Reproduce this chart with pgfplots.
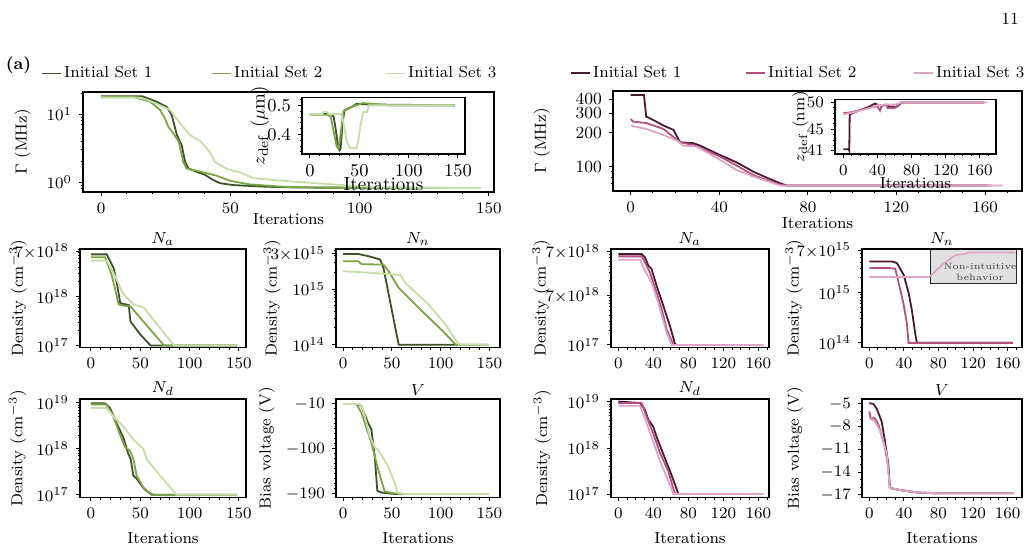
\documentclass[border=0pt]{standalone}
\usepackage{pgfplots}
\pgfplotsset{compat=1.18}
\definecolor{g1}{HTML}{3D5228}
\definecolor{g2}{HTML}{7BA443}
\definecolor{g3}{HTML}{C6DDA8}
\definecolor{p1}{HTML}{4A1830}
\definecolor{p2}{HTML}{B3507F}
\definecolor{p3}{HTML}{DDA5C6}
\pgfplotsset{
  base/.style={scale only axis, anchor=south west, tick align=outside, tick pos=left,
    axis line style={line width=0.6pt},
    every tick/.style={black, line width=0.5pt},
    major tick length=2pt, minor tick length=1.2pt,
    font=\fontsize{8}{9}\selectfont,
    ticklabel style={font=\fontsize{8.5}{9.5}\selectfont},
    every axis plot/.append style={line width=0.9pt},
    title style={font=\fontsize{8.5}{9.5}\selectfont, inner sep=2pt, yshift=-6.5pt},
  },
  yl/.style={every axis y label/.style={at={(axis description cs:#1,0.5)}, rotate=90, anchor=center}},
  xl/.style={xtick={0,50,100,150}, minor xtick={0,10,...,150}},
  xr/.style={xtick={0,40,80,120,160}, minor xtick={0,10,...,170}},
  leg/.style={hide axis, scale only axis, width=1pt, height=1pt, xmin=0, xmax=1, ymin=0, ymax=1,
    at={#1}, anchor=south west,
    legend style={at={(0,0.5)}, anchor=west, draw=none, fill=none, inner sep=0pt,
      nodes={inner sep=1.25pt}, font=\fontsize{8}{9}\selectfont},
    legend image code/.code={\draw[##1] (0pt,0pt) -- (9.5pt,0pt);}},
}
\begin{document}
\begin{tikzpicture}
\useasboundingbox (0,0) rectangle (514.5pt,274.5pt);

% ---------- P1 main (left) ----------
\begin{axis}[base, xl, at={(41.5pt,178.5pt)}, width=205.5pt, height=50pt,
  xmin=-7, xmax=152, ymode=log, ymin=0.72, ymax=21.3,
  ytick={1,10}, yticklabels={$10^{0}$,$10^{1}$}, minor ytick={0.8,0.9,2,3,4,5,6,7,8,9,20},
  xlabel={Iterations}, ylabel={$\Gamma$ (MHz)}, yl=-0.147, xlabel style={yshift=7pt}]
\addplot[g1] coordinates {(0,18.4)(16,18.4)(21.5,15.3)(25.4,12.9)(27.3,9.8)(29.3,5.0)(31.2,3.5)(32.5,2.0)(33.8,1.6)(38.3,1.36)(40,1.3)(43.4,1.08)(46,0.97)(51,0.91)(64,0.86)(77,0.836)(120,0.83)};
\addplot[g2] coordinates {(0,18.0)(12.5,18.0)(19,15.3)(22.8,11.6)(24.7,8.7)(26,6.6)(28,5.2)(30,4.0)(31.8,2.0)(33,1.6)(38.3,1.44)(44.7,1.25)(50,1.05)(57.6,0.93)(70.5,0.86)(83,0.836)(134,0.83)};
\addplot[g3] coordinates {(0,17.6)(15,17.6)(19,15.7)(26.7,11.6)(30.5,7.4)(34.4,4.96)(38.3,4.05)(42,2.82)(44,2.0)(48.6,1.57)(53.7,1.40)(59,1.15)(70.5,1.05)(83,0.97)(102.7,0.86)(115.6,0.836)(147,0.83)};
\end{axis}

% ---------- I1 inset ----------
\begin{axis}[base, xl, at={(151pt,197.5pt)}, width=81.5pt, height=28.25pt,
  axis background/.style={fill=white},
  font=\fontsize{9.5}{10.5}\selectfont, ticklabel style={font=\fontsize{9.5}{10.5}\selectfont},
  xmin=-8.1, xmax=157.1, ymin=0.333, ymax=0.527,
  ytick={0.4,0.5}, minor ytick={0.34,0.36,0.38,0.42,0.44,0.46,0.48,0.52},
  xlabel={Iterations}, ylabel={$z_{\mathrm{def}}$ ($\mu$m)}, yl=-0.258,
  xlabel style={yshift=6.5pt}]
\addplot[g1] coordinates {(0,0.47)(22,0.47)(24,0.46)(26,0.42)(28,0.37)(30,0.346)(31,0.35)(33,0.44)(35,0.483)(40,0.491)(44,0.498)(47,0.505)(60,0.503)(147,0.5)};
\addplot[g2] coordinates {(0,0.468)(18,0.468)(21,0.46)(24,0.41)(27,0.36)(29,0.35)(31,0.40)(34,0.48)(40,0.49)(44,0.497)(54,0.508)(71,0.503)(80,0.5)(147,0.5)};
\addplot[g3] coordinates {(0,0.47)(12,0.47)(14,0.478)(17,0.478)(19,0.47)(32,0.47)(34,0.44)(37,0.38)(40,0.355)(47,0.352)(49,0.38)(51,0.43)(54,0.477)(58,0.477)(59.5,0.5)(147,0.5)};
\end{axis}

% ---------- P2 main (right) ----------
\begin{axis}[base, xr, at={(306.5pt,179pt)}, width=204.5pt, height=50pt,
  xmin=-8, xmax=176.7, ymode=log, ymin=60.5, ymax=475,
  ytick={100,200,300,400}, yticklabels={100,200,300,400}, minor ytick={70,80,90},
  xlabel={Iterations}, ylabel={$\Gamma$ (MHz)}, yl=-0.174, xlabel style={yshift=4.5pt}]
\addplot[p1] coordinates {(0,437)(6,437)(7,280)(10.2,261)(14.8,233)(19.3,213)(22.3,165)(28.3,162)(31.3,154)(40.3,127)(47.9,109)(55.4,90)(61.4,79.7)(67.4,71)(70.5,67.7)(161,67.7)};
\addplot[p2] coordinates {(0,267)(1,253)(7.2,245)(14.8,217)(22.3,165)(28.3,156)(40.3,123)(47.9,102)(55.4,84)(64.4,72)(69,67.7)(163,67.7)};
\addplot[p3] coordinates {(0,233)(7.2,217)(14.8,192)(20.8,171)(23.8,154)(29.8,151)(40.3,115)(47.9,93)(55.4,81.5)(64.4,71)(67.4,67.7)(168,67.7)};
\end{axis}

% ---------- I2 inset ----------
\begin{axis}[base, xr, at={(417.5pt,197.5pt)}, width=80.5pt, height=27.25pt,
  axis background/.style={fill=white},
  xmin=-9.7, xmax=178.8, ymin=40.4, ymax=50.56,
  ytick={41,45,50}, minor ytick={41,...,50},
  xlabel={Iterations}, ylabel={$z_{\mathrm{def}}$ (nm)}, yl=-0.215,
  xlabel style={yshift=6pt}]
\addplot[p1] coordinates {(0,41.3)(6,41.3)(7,41.0)(7.5,47.7)(10,48.0)(20,48.6)(30,49.2)(37,49.8)(40,49.6)(45,49.4)(50,49.6)(55,49.2)(62,49.2)(66,49.6)(68,50)(165,50)};
\addplot[p2] coordinates {(0,48.0)(10,48.2)(20,48.6)(30,49.0)(40,49.3)(43,48.5)(45,49.4)(50,49.6)(52,49.0)(60,49.0)(64,49.3)(68,50)(165,50)};
\addplot[p3] coordinates {(0,47.8)(10,48.1)(20,48.5)(30,48.9)(40,49.5)(50,49.6)(60,49.6)(68,50)(168,50)};
\end{axis}

% ---------- A: Na left ----------
\begin{axis}[base, xl, at={(40pt,100.75pt)}, width=83pt, height=49.25pt,
  xmin=-11.1, xmax=157.1, ymode=log, ymin=9.12e16, ymax=9.33e18,
  ytick={1e17,1e18,8.3e18}, yticklabels={$10^{17}$,$10^{18}$,$7{\times}10^{18}$},
  minor ytick={2e17,3e17,4e17,5e17,6e17,7e17,8e17,9e17,2e18,3e18,4e18,5e18,6e18,7e18,8e18,9e18},
  title={$N_a$}, ylabel={Density (cm$^{-3}$)}, yl=-0.373]
\addplot[g1] coordinates {(0,7.24e18)(16,7.24e18)(23,3.8e18)(26.3,1.86e18)(29.7,7.3e17)(38.3,6.7e17)(40,3.1e17)(50.3,1.65e17)(60.5,1e17)(148,1e17)};
\addplot[g2] coordinates {(0,6.3e18)(14.4,6.3e18)(21,2.75e18)(24.6,1.38e18)(28,6.9e17)(36.6,6.3e17)(40,6.3e17)(74,1e17)(148,1e17)};
\addplot[g3] coordinates {(0,5.4e18)(16,5.4e18)(24.6,2.57e18)(31.5,1.26e18)(35,1e18)(43.4,6.8e17)(53.7,6.0e17)(57,4.8e17)(84.4,1e17)(148,1e17)};
\end{axis}

% ---------- B: Nn left ----------
\begin{axis}[base, xl, at={(168pt,100.75pt)}, width=82pt, height=49.25pt,
  xmin=-7.3, xmax=161, ymode=log, ymin=8.9e13, ymax=5.25e15,
  ytick={1e14,1e15,4.27e15}, yticklabels={$10^{14}$,$10^{15}$,$3{\times}10^{15}$},
  minor ytick={2e14,3e14,4e14,5e14,6e14,7e14,8e14,9e14,2e15,3e15,4e15,5e15},
  title={$N_n$}, ylabel={Density (cm$^{-3}$)}, yl=-0.39]
\addplot[g1] coordinates {(0,4.27e15)(15.5,4.27e15)(25.9,3.9e15)(38,3.4e15)(41.4,2.4e15)(57,1e14)(148,1e14)};
\addplot[g2] coordinates {(0,3.16e15)(15.5,3.16e15)(19,2.8e15)(41.4,2.75e15)(46.6,2.1e15)(57,1.05e15)(81,4e14)(101.7,1.8e14)(115.5,1e14)(148,1e14)};
\addplot[g3] coordinates {(0,2.1e15)(29.3,1.95e15)(58.6,1.8e15)(63.8,1.29e15)(88,5.2e14)(105,2.3e14)(119,1e14)(150,1e14)};
\end{axis}

% ---------- C: Na right ----------
\begin{axis}[base, xr, at={(305.5pt,100.75pt)}, width=79pt, height=49.25pt,
  xmin=-8.3, xmax=172.2, ymode=log, ymin=8.9e16, ymax=8.9e18,
  ytick={1e17,1e18,7.8e18}, yticklabels={$10^{17}$,$7{\times}10^{18}$,$7{\times}10^{18}$},
  minor ytick={2e17,3e17,4e17,5e17,6e17,7e17,8e17,9e17,2e18,3e18,4e18,5e18,6e18,7e18},
  title={$N_a$}, ylabel={Density (cm$^{-3}$)}, yl=-0.443]
\addplot[p1] coordinates {(0,7e18)(26.7,7e18)(30.5,6.0e18)(34.3,4.1e18)(38,3.5e18)(43.8,1.6e18)(51.4,6.3e17)(59,2.45e17)(64.8,1.05e17)(66.7,1e17)(165.7,1e17)};
\addplot[p2] coordinates {(0,6.3e18)(26.7,6.3e18)(30.5,4.8e18)(36.2,2.95e18)(41.9,1.48e18)(49.5,5.4e17)(55.2,2.1e17)(62.9,1e17)(164,1e17)};
\addplot[p3] coordinates {(0,5.4e18)(24.8,5.4e18)(30.5,3.2e18)(38,1.86e18)(45.7,7.2e17)(55.2,1.8e17)(61,1e17)(166,1e17)};
\end{axis}

% ---------- D: Nn right ----------
\draw[fill=black!12, draw=black!85, line width=0.5pt] (465pt,132.5pt) rectangle (508pt,149.5pt);
\node[font=\fontsize{4.6}{5.6}\selectfont, align=center, text=black!75] at (490pt,138.5pt) {Non-intuitive\\behavior};
\begin{axis}[base, xr, at={(431pt,100.75pt)}, width=80pt, height=49.25pt,
  xmin=-8.5, xmax=176.7, ymode=log, ymin=8.1e13, ymax=7.4e15,
  ytick={1e14,1e15,7e15}, yticklabels={$10^{14}$,$10^{15}$,$7{\times}10^{15}$},
  minor ytick={2e14,3e14,4e14,5e14,6e14,7e14,8e14,9e14,2e15,3e15,4e15,5e15,6e15},
  title={$N_n$}, ylabel={Density (cm$^{-3}$)}, yl=-0.425]
\addplot[p1] coordinates {(0,4.17e15)(26,4.17e15)(31.8,3.9e15)(39.6,2.3e15)(45.4,1e15)(49.3,4.4e14)(53.2,1.5e14)(55.1,1.0e14)(166,1e14)};
\addplot[p2] coordinates {(0,3.1e15)(22,3.1e15)(30,3.0e15)(33.8,1.6e15)(39.6,5.9e14)(43.5,2.4e14)(45.4,1e14)(166,1e14)};
\addplot[p3] coordinates {(0,2.04e15)(68.7,2.04e15)(72.6,2.3e15)(84.3,3.6e15)(99.8,5.6e15)(111.5,5.9e15)(115,6.3e15)(169,6.3e15)};
\end{axis}

% ---------- E: Nd left ----------
\begin{axis}[base, xl, at={(40pt,25.75pt)}, width=83pt, height=49.25pt,
  xmin=-11.1, xmax=157.1, ymode=log, ymin=8.7e16, ymax=1.22e19,
  ytick={1e17,1e18,1e19}, yticklabels={$10^{17}$,$10^{18}$,$10^{19}$},
  minor ytick={2e17,3e17,4e17,5e17,6e17,7e17,8e17,9e17,2e18,3e18,4e18,5e18,6e18,7e18,8e18,9e18},
  title={$N_d$}, xlabel={Iterations}, ylabel={Density (cm$^{-3}$)}, yl=-0.376]
\addplot[g1] coordinates {(0,9.8e18)(14,9.8e18)(19.3,7.8e18)(26,3.6e18)(32.8,1.78e18)(37.8,7.8e17)(40.2,6.0e17)(43,2.6e17)(46.3,2.24e17)(53,1.41e17)(61.5,1e17)(148,1e17)};
\addplot[g2] coordinates {(0,9.3e18)(15.9,9.3e18)(22.6,5.1e18)(29.4,2.04e18)(34.5,1.1e18)(39.5,9.1e17)(43,6e17)(46.3,2.6e17)(48,2.24e17)(54.7,1.26e17)(63.2,1e17)(148,1e17)};
\addplot[g3] coordinates {(0,7.8e18)(15.9,7.8e18)(22.6,5.1e18)(32.8,3.1e18)(43,1.58e18)(53,1e18)(56.4,6e17)(70,2.6e17)(86.8,1e17)(148,1e17)};
\end{axis}

% ---------- F: V left ----------
\begin{axis}[base, xl, at={(168pt,25.75pt)}, width=82pt, height=49.25pt,
  xmin=-7.3, xmax=161, ymin=-197, ymax=0,
  ytick={-190,-100,-10}, minor ytick={-190,-180,...,-10},
  title={$V$}, xlabel={Iterations}, ylabel={Bias voltage (V)}, yl=-0.423]
\addplot[g1] coordinates {(0,-10)(15.3,-10)(18.8,-14.6)(25.6,-47.7)(29,-61)(32.4,-114)(35.1,-183.5)(39.2,-187)(52.8,-190)(148,-190)};
\addplot[g2] coordinates {(0,-10)(13.6,-10)(18.8,-27.9)(29,-87.5)(35.8,-140)(42.6,-185)(52.8,-189)(60,-190)(148,-190)};
\addplot[g3] coordinates {(0,-10)(17,-10)(20.5,-21)(27.3,-74)(32.4,-97)(35.8,-101)(46,-134)(52.8,-167)(55.6,-187)(63,-190)(150,-190)};
\end{axis}

% ---------- G: Nd right ----------
\begin{axis}[base, xr, at={(305.5pt,25.75pt)}, width=79pt, height=49.25pt,
  xmin=-8.3, xmax=172.2, ymode=log, ymin=8.43e16, ymax=1.16e19,
  ytick={1e17,1e18,1e19}, yticklabels={$10^{17}$,$10^{18}$,$10^{19}$},
  minor ytick={2e17,3e17,4e17,5e17,6e17,7e17,8e17,9e17,2e18,3e18,4e18,5e18,6e18,7e18,8e18,9e18},
  title={$N_d$}, xlabel={Iterations}, ylabel={Density (cm$^{-3}$)}, yl=-0.434]
\addplot[p1] coordinates {(0,1.02e19)(24.8,9.5e18)(30.5,6.8e18)(34.3,4.1e18)(40,2.9e18)(43.8,1.74e18)(51.4,7.4e17)(59,3.2e17)(64.8,1.62e17)(68.6,1e17)(164,1e17)};
\addplot[p2] coordinates {(0,9.5e18)(26.7,9.5e18)(32.4,4.8e18)(40,2.04e18)(47.6,7.9e17)(57,3.2e17)(64.8,1e17)(165,1e17)};
\addplot[p3] coordinates {(0,8.3e18)(24.8,8.3e18)(30.5,4.4e18)(38,1.74e18)(47.6,5.2e17)(59,1.58e17)(62.9,1e17)(166,1e17)};
\end{axis}

% ---------- H: V right ----------
\begin{axis}[base, xr, at={(431pt,25.75pt)}, width=80pt, height=49.25pt,
  xmin=-8.5, xmax=176.7, ymin=-17.35, ymax=-4.35,
  ytick={-17,-14,-11,-8,-5}, minor ytick={-17,...,-5},
  title={$V$}, xlabel={Iterations}, ylabel={Bias voltage (V)}, yl=-0.42]
\addplot[p1] coordinates {(0,-4.9)(4.6,-5.0)(8.4,-5.6)(14.2,-7.3)(18,-9.9)(21.9,-12.9)(23.8,-16.1)(37.2,-16.4)(56.4,-16.7)(80,-16.8)(166,-16.8)};
\addplot[p2] coordinates {(0,-6.0)(1.5,-6.9)(6.5,-6.9)(10.4,-7.7)(18,-10.7)(21.9,-13.3)(23.8,-16.1)(37.2,-16.4)(56.4,-16.7)(80,-16.8)(166,-16.8)};
\addplot[p3] coordinates {(0,-6.9)(6.5,-7.3)(14.2,-9.0)(20,-11.6)(23.8,-16.1)(37.2,-16.4)(56.4,-16.7)(80,-16.8)(168,-16.8)};
\end{axis}

% ---------- legends ----------
\begin{axis}[leg={(20.25pt,237.25pt)}]
\addlegendimage{g1, line width=0.9pt}\addlegendentry{Initial Set 1}
\end{axis}
\begin{axis}[leg={(105.25pt,237.25pt)}]
\addlegendimage{g2, line width=0.9pt}\addlegendentry{Initial Set 2}
\end{axis}
\begin{axis}[leg={(192.25pt,237.25pt)}]
\addlegendimage{g3, line width=0.9pt}\addlegendentry{Initial Set 3}
\end{axis}
\begin{axis}[leg={(284.75pt,237.5pt)}]
\addlegendimage{p1, line width=0.9pt}\addlegendentry{Initial Set 1}
\end{axis}
\begin{axis}[leg={(372.25pt,237.5pt)}]
\addlegendimage{p2, line width=0.9pt}\addlegendentry{Initial Set 2}
\end{axis}
\begin{axis}[leg={(456.25pt,237.5pt)}]
\addlegendimage{p3, line width=0.9pt}\addlegendentry{Initial Set 3}
\end{axis}

\node[font=\fontsize{8.5}{10}\selectfont] at (505pt,265pt) {11};
\node[font=\fontsize{8.5}{10}\selectfont\bfseries] at (9.25pt,242pt) {(a)};
\end{tikzpicture}
\end{document}
